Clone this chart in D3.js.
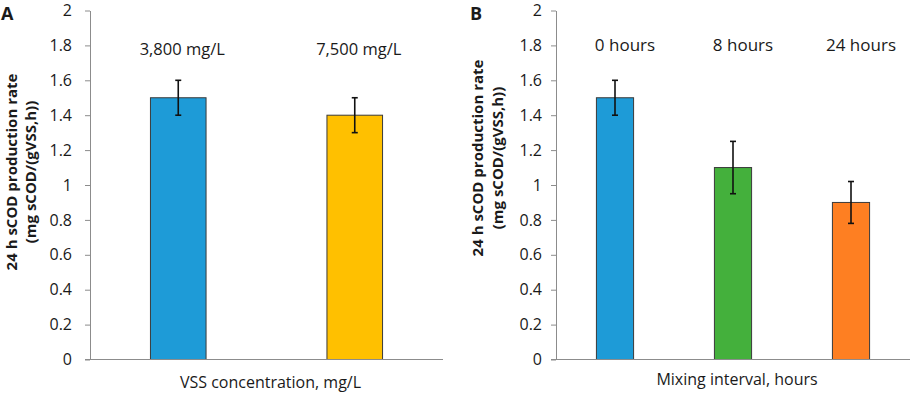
<!DOCTYPE html>
<html>
<head>
<meta charset="utf-8">
<script src="https://cdn.jsdelivr.net/npm/d3@7"></script>
<style>
  body { margin: 0; background: #fff; }
  text { font-family: 'Open Sans', sans-serif; fill: #1a1a1a; }
</style>
</head>
<body>
<div id="chart"></div>
<script>
const yTicks = [0, 0.2, 0.4, 0.6, 0.8, 1, 1.2, 1.4, 1.6, 1.8, 2];

const vssLabels = ['3,800 mg/L', '7,500 mg/L'];
const vssValues = [1.5, 1.4];
const vssErrors = [0.1, 0.1];
const vssColors = ['#1e9bd7', '#ffc000'];

const mixLabels = ['0 hours', '8 hours', '24 hours'];
const mixValues = [1.5, 1.1, 0.9];
const mixErrors = [0.1, 0.15, 0.12];
const mixColors = ['#1e9bd7', '#44b03c', '#fe7f22'];

const yTitle = ['24 h sCOD production rate', '(mg sCOD/(gVSS,h))'];

document.addEventListener('DOMContentLoaded', () => {
    const width = 913,
          height = 394;

    const svg = d3.select('#chart')
        .append('svg')
        .attr('width', width)
        .attr('height', height);

    const panels = [
        { letter: 'A', letterX: 1, left: 90, right: 443, labels: vssLabels, values: vssValues, errors: vssErrors,
          colors: vssColors, xTitle: 'VSS concentration, mg/L', tickPad: 13, labelY: 55, labelDx: 4, labelSize: 16.5,
          titleX: [12, 31], titleY: 172, xTitleY: 388 },
        { letter: 'B', letterX: 470, left: 556, right: 910, labels: mixLabels, values: mixValues, errors: mixErrors,
          colors: mixColors, xTitle: 'Mixing interval, hours', tickPad: 9, labelY: 51, labelDx: 10, labelSize: 17,
          titleX: [478, 498], titleY: 158, xTitleY: 385 }
    ];

    const yScale = d3.scaleLinear()
        .domain([0, 2])
        .range([359.5, 10.5]);

    panels.forEach(p => {
        const g = svg.append('g');

        const xScale = d3.scaleBand()
            .domain(p.labels)
            .range([p.left, p.right])
            .padding(0);
        const barW = xScale.bandwidth() * 0.315;

        // y axis
        const yAxis = g.append('g')
            .attr('transform', `translate(${p.left}, 0)`)
            .call(d3.axisLeft(yScale)
                .tickValues(yTicks)
                .tickFormat(d => String(d))
                .tickSize(5)
                .tickSizeOuter(0)
                .tickPadding(p.tickPad));
        yAxis.select('.domain').attr('stroke', '#8c8c8c');
        yAxis.selectAll('.tick line').attr('stroke', '#8c8c8c');
        yAxis.selectAll('.tick text')
            .style('font-family', "'Open Sans', sans-serif")
            .style('font-size', '16px')
            .attr('fill', '#1a1a1a');

        // bars
        g.selectAll('rect.bar')
            .data(p.values)
            .enter()
            .append('rect')
            .attr('class', 'bar')
            .attr('x', (d, i) => xScale(p.labels[i]) + (xScale.bandwidth() - barW) / 2)
            .attr('y', d => yScale(d))
            .attr('width', barW)
            .attr('height', d => yScale(0) - yScale(d))
            .attr('fill', (d, i) => p.colors[i])
            .attr('stroke', '#3a3a3a')
            .attr('stroke-width', 1);

        // x axis line
        g.append('line')
            .attr('x1', p.left - 5)
            .attr('x2', p.right)
            .attr('y1', yScale(0))
            .attr('y2', yScale(0))
            .attr('stroke', '#8c8c8c')
            .attr('stroke-width', 1);

        // error bars
        const eb = g.selectAll('g.err')
            .data(p.values)
            .enter()
            .append('g')
            .attr('class', 'err')
            .attr('stroke', '#111')
            .attr('stroke-width', 1.6);
        const cx = (i) => xScale(p.labels[i]) + xScale.bandwidth() / 2;
        eb.append('line')
            .attr('x1', (d, i) => cx(i))
            .attr('x2', (d, i) => cx(i))
            .attr('y1', (d, i) => yScale(d + p.errors[i]))
            .attr('y2', (d, i) => yScale(d - p.errors[i]));
        [1, -1].forEach(s => {
            eb.append('line')
                .attr('x1', (d, i) => cx(i) - 3)
                .attr('x2', (d, i) => cx(i) + 3)
                .attr('y1', (d, i) => yScale(d + s * p.errors[i]))
                .attr('y2', (d, i) => yScale(d + s * p.errors[i]));
        });

        // category labels
        g.selectAll('text.cat')
            .data(p.labels)
            .enter()
            .append('text')
            .attr('class', 'cat')
            .attr('x', d => xScale(d) + xScale.bandwidth() / 2 + p.labelDx)
            .attr('y', p.labelY)
            .attr('text-anchor', 'middle')
            .style('font-size', p.labelSize + 'px')
            .text(d => d);

        // x title
        g.append('text')
            .attr('x', (p.left + p.right) / 2 + 4)
            .attr('y', p.xTitleY)
            .attr('text-anchor', 'middle')
            .style('font-size', '16px')
            .text(p.xTitle);

        // y title
        yTitle.forEach((t, i) => {
            g.append('text')
                .attr('transform', `translate(${p.titleX[i] + 5}, ${p.titleY}) rotate(-90)`)
                .attr('text-anchor', 'middle')
                .style('font-size', '15px')
                .style('font-weight', 'bold')
                .text(t);
        });

        // panel letter
        g.append('text')
            .attr('x', p.letterX)
            .attr('y', 20)
            .style('font-size', '18px')
            .style('font-weight', 'bold')
            .text(p.letter);
    });
});
</script>
</body>
</html>
